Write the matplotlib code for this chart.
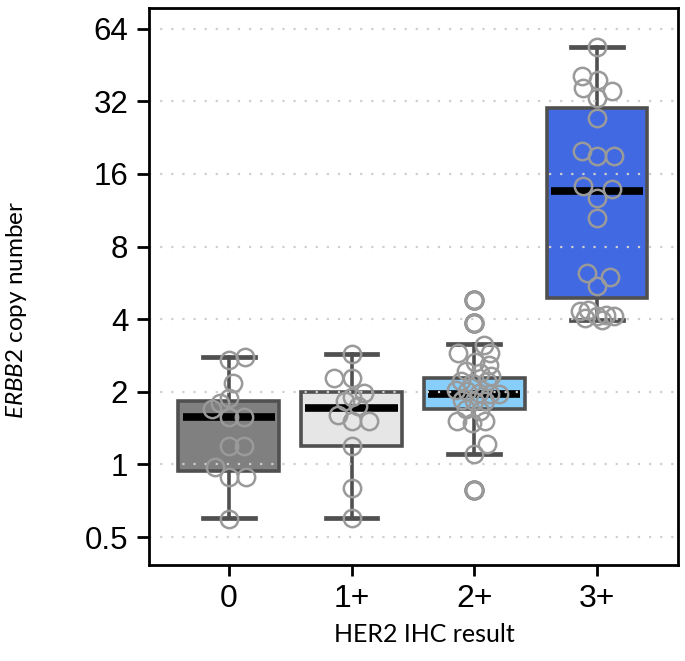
import numpy as np
import matplotlib.pyplot as plt
from matplotlib.ticker import FixedLocator, FixedFormatter, NullLocator

plt.rcParams['font.family'] = ['Liberation Sans', 'DejaVu Sans']
plt.rcParams['mathtext.fontset'] = 'custom'
plt.rcParams['mathtext.rm'] = 'Lato'
plt.rcParams['mathtext.it'] = 'Lato:italic'

categories = ['0', '1+', '2+', '3+']
box_colors = ['#808080', '#e6e6e6', '#87cefa', '#4169e1']

# box statistics
whislo = [0.597, 0.597, 1.10, 3.96]
q1 = [0.935, 1.19, 1.69, 4.9]
med = [1.57, 1.72, 1.95, 13.6]
q3 = [1.84, 2.0, 2.28, 29.9]
whishi = [2.78, 2.87, 3.17, 53.8]
fliers = [[], [], [4.82, 3.86, 0.785], []]

# individual samples: value and horizontal offset from the category centre
vals_0 = [2.72, 2.80, 2.17, 1.88, 1.80, 1.69, 1.58, 1.58, 1.19, 1.19, 0.98, 0.89, 0.89, 0.595]
offs_0 = [0.0, 0.13, 0.035, 0.0, -0.07, -0.14, 0.0, 0.12, 0.0, 0.12, -0.11, 0.0, 0.14, 0.0]

vals_1 = [2.87, 2.28, 2.28, 1.98, 1.90, 1.83, 1.74, 1.61, 1.51, 1.51, 1.19, 0.80, 0.597]
offs_1 = [0.0, -0.14, 0.0, 0.10, 0.0, -0.05, 0.05, -0.11, 0.0, 0.14, 0.0, 0.0, 0.0]

vals_2 = [4.82, 3.86, 2.90, 3.14, 2.90, 2.67, 2.59, 2.43, 2.39, 2.32, 2.21, 2.17, 2.21,
          2.04, 2.01, 1.98, 1.95, 1.95, 1.85, 1.83, 1.83, 1.69, 1.66, 1.51, 1.48, 1.51,
          1.21, 1.10, 0.785]
offs_2 = [0.0, 0.0, -0.13, 0.08, 0.13, 0.01, 0.12, -0.07, 0.05, 0.14, -0.11, -0.02, 0.10,
          -0.15, -0.06, 0.04, 0.13, 0.20, -0.10, 0.0, 0.09, -0.07, 0.05, -0.14, -0.02, 0.09,
          0.10, 0.0, 0.0]

vals_3 = [53.9, 40.7, 39.4, 36.4, 35.3, 33.1, 27.3, 19.9, 18.95, 18.95, 14.2, 13.8, 12.7,
          10.5, 6.2, 6.0, 5.47, 4.31, 4.38, 4.11, 4.18, 4.11, 4.05, 3.98]
offs_3 = [0.0, -0.12, 0.01, -0.11, 0.12, 0.0, 0.0, -0.12, 0.0, 0.14, -0.11, 0.12, 0.0,
          0.0, -0.08, 0.11, 0.0, -0.14, -0.07, 0.0, 0.07, 0.14, -0.10, 0.04]

values = [vals_0, vals_1, vals_2, vals_3]
offsets = [offs_0, offs_1, offs_2, offs_3]

yticks = [0.5, 1, 2, 4, 8, 16, 32, 64]
ytick_labels = ['0.5', '1', '2', '4', '8', '16', '32', '64']

fig = plt.figure(figsize=(6.85, 6.61), dpi=100)
ax = fig.add_axes([149/685, 96/661, 529/685, 557/661])

stats = []
for i in range(4):
    stats.append(dict(whislo=whislo[i], q1=q1[i], med=med[i], q3=q3[i],
                      whishi=whishi[i], fliers=fliers[i]))

pos = np.arange(4)
bp = ax.bxp(stats, positions=pos, widths=0.82, capwidths=0.42, patch_artist=True,
            boxprops=dict(edgecolor='#505050', linewidth=2.6),
            whiskerprops=dict(color='#505050', linewidth=2.6),
            capprops=dict(color='#505050', linewidth=3.4),
            medianprops=dict(color='black', linewidth=5.5, solid_capstyle='butt'),
            flierprops=dict(marker='o', markersize=12.5, markerfacecolor='none',
                            markeredgecolor='#6e6e6e', markeredgewidth=2.2),
            zorder=2)
for patch, c in zip(bp['boxes'], box_colors):
    patch.set_facecolor(c)
for ln in bp['medians']:
    x0, x1 = ln.get_xdata()[0], ln.get_xdata()[1]
    ln.set_xdata([x0 + 0.035, x1 - 0.035])

# dotted grid drawn over the boxes
for t in yticks:
    ax.axhline(t, color='#cfcfcf', linestyle=(0, (1, 4)), linewidth=1.6, zorder=2.5)

for i in range(4):
    xs = pos[i] + np.array(offsets[i])
    ax.plot(xs, values[i], linestyle='', marker='o', markersize=12.5,
            markerfacecolor='none', markeredgecolor='#9a9a9a', markeredgewidth=1.8,
            zorder=3)

ax.set_yscale('log', base=2)
ax.set_ylim(0.383, 78)
ax.set_xlim(-0.65, 3.66)
ax.yaxis.set_major_locator(FixedLocator(yticks))
ax.yaxis.set_major_formatter(FixedFormatter(ytick_labels))
ax.yaxis.set_minor_locator(NullLocator())
ax.set_xticks(pos)
ax.set_xticklabels(categories)

ax.tick_params(axis='y', labelsize=22.5, width=2, length=9, color='black', pad=6)
ax.tick_params(axis='x', labelsize=23, width=2, length=8, color='black', pad=6)
for s in ax.spines.values():
    s.set_linewidth(2)
    s.set_color('black')

ax.set_xlabel('HER2 IHC result', fontsize=18, family='Lato')
ax.set_ylabel(r'$\it{ERBB2}$ copy number', fontsize=17.5, family='Lato')
ax.xaxis.set_label_coords(0.52, -0.105)
ax.yaxis.set_label_coords(-0.226, 0.458)

fig.savefig('out.png', dpi=100)
